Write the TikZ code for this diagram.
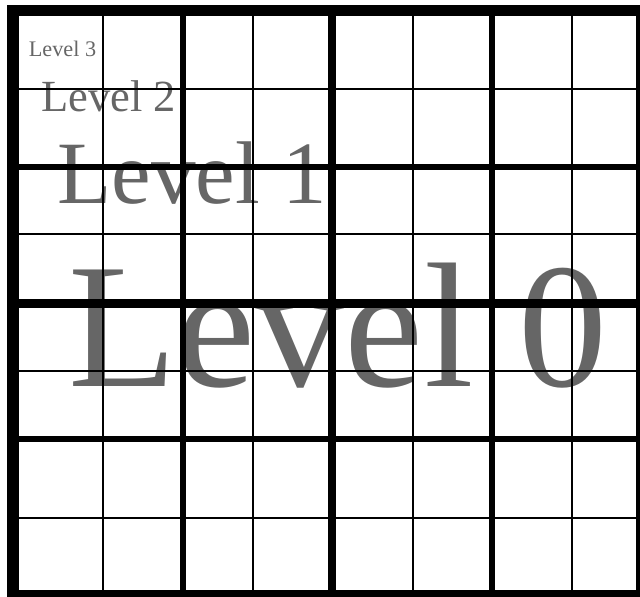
\documentclass[tikz,border=0pt]{standalone}
\usepackage{fontspec}
\setmainfont{Liberation Serif}
\usepackage{tikz}

\begin{document}
\begin{tikzpicture}[x=1pt,y=-1pt]
\tikzstyle{levelname}=[anchor=base west,inner sep=0pt,text=black!60]
\tikzstyle{gridzero}=[draw,line width=11.5pt]
\tikzstyle{gridone}=[draw,line width=8.8pt]
\tikzstyle{gridtwo}=[draw,line width=5.6pt]
\tikzstyle{gridthree}=[draw,line width=2pt]
\useasboundingbox (0,0) rectangle (640,597);
\clip (0,0) rectangle (640,597);
% level names, under the grid
\node[levelname,font=\fontsize{178}{178}\selectfont] (lzero) at (68,386) {Level 0};
\node[levelname,font=\fontsize{89}{89}\selectfont] (lone) at (57.3,203.3) {Level 1};
\node[levelname,font=\fontsize{44.5}{44.5}\selectfont] (ltwo) at (41.2,111.7) {Level 2};
\node[levelname,font=\fontsize{22.25}{22.25}\selectfont] (lthree) at (28.7,56.7) {Level 3};
% finest lines
\foreach \x in {102.5,252.5,413,572}
  \draw[gridthree] (\x,10.5) -- (\x,596);
\foreach \y in {88.7,234.3,371.3,517.5}
  \draw[gridthree] (13,\y) -- (642,\y);
% level 2
\foreach \x in {182.7,491.7}
  \draw[gridtwo] (\x,10.5) -- (\x,596);
\foreach \y in {166.7,439}
  \draw[gridtwo] (13,\y) -- (642,\y);
% level 1
\draw[gridone] (332,10.5) -- (332,596);
\draw[gridone] (13,303.3) -- (642,303.3);
% level 0
\draw[gridzero] (13,10.5) rectangle (642,596);
\end{tikzpicture}
\end{document}
